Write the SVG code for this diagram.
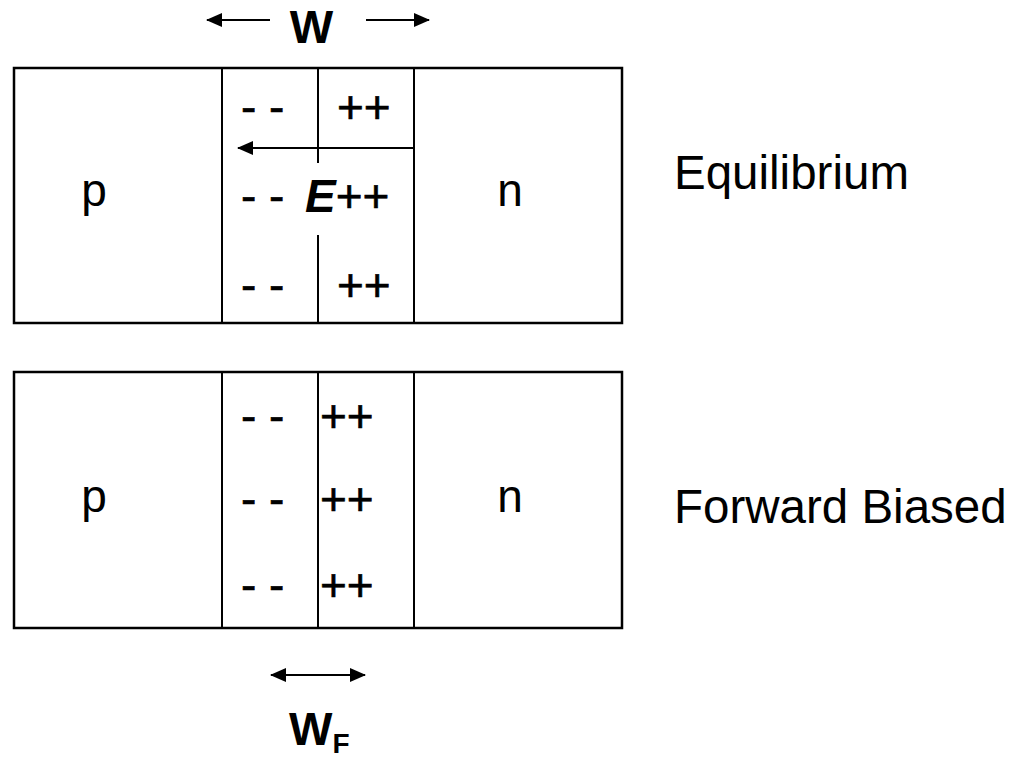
<svg xmlns="http://www.w3.org/2000/svg" width="1015" height="760" viewBox="0 0 1015 760">
  <style>
    .frame { fill: none; stroke: #000; stroke-width: 2.5; }
    .div { stroke: #000; stroke-width: 2; fill: none; }
    .conn { stroke: #000; stroke-width: 2; fill: none; }
    .lbl { font-family: "Liberation Sans", Arial, sans-serif; font-size: 46px; fill: #000; }
    .side { font-family: "Liberation Sans", Arial, sans-serif; font-size: 47.5px; fill: #000; }
    .chg { font-family: "Liberation Sans", Arial, sans-serif; font-size: 46px; fill: #000; stroke: #000; stroke-width: 0.6; }
    .bold { font-weight: bold; }
  </style>
  <defs>
    <marker id="head" viewBox="0 0 16 14" refX="15" refY="7" markerWidth="16" markerHeight="14" markerUnits="userSpaceOnUse" orient="auto-start-reverse">
      <path d="M0,0 L16,7 L0,14 Z" fill="#000"/>
    </marker>
  </defs>
  <rect width="1015" height="760" fill="#fff"/>

  <!-- equilibrium junction -->
  <g id="junction-equilibrium">
    <rect class="frame" x="14" y="68" width="608" height="255"/>
    <line class="div" x1="222" y1="68" x2="222" y2="323"/>
    <line class="div" x1="414" y1="68" x2="414" y2="323"/>
    <line class="div" x1="318" y1="68" x2="318" y2="163"/>
    <line class="div" x1="318" y1="235" x2="318" y2="323"/>
    <text class="lbl" x="94" y="206" text-anchor="middle">p</text>
    <text class="lbl" x="510" y="206" text-anchor="middle">n</text>
    <text class="chg" x="241" y="123">- -</text>
    <text class="chg" x="337" y="123">++</text>
    <text class="chg" x="241" y="212">- -</text>
    <text class="chg" x="305" y="212"><tspan font-weight="bold" font-style="italic" stroke-width="0">E</tspan>++</text>
    <text class="chg" x="241" y="301">- -</text>
    <text class="chg" x="337" y="301">++</text>
  </g>
  <g id="label-equilibrium">
    <text class="side" x="674" y="189">Equilibrium</text>
  </g>

  <!-- forward biased junction -->
  <g id="junction-forward">
    <rect class="frame" x="14" y="372" width="608" height="256"/>
    <line class="div" x1="222" y1="372" x2="222" y2="628"/>
    <line class="div" x1="318" y1="372" x2="318" y2="628"/>
    <line class="div" x1="414" y1="372" x2="414" y2="628"/>
    <text class="lbl" x="94" y="512" text-anchor="middle">p</text>
    <text class="lbl" x="510" y="512" text-anchor="middle">n</text>
    <text class="chg" x="241" y="432">- -</text>
    <text class="chg" x="320" y="432">++</text>
    <text class="chg" x="241" y="515">- -</text>
    <text class="chg" x="320" y="515">++</text>
    <text class="chg" x="241" y="601">- -</text>
    <text class="chg" x="320" y="601">++</text>
  </g>
  <g id="label-forward">
    <text class="side" x="674" y="523">Forward Biased</text>
  </g>

  <!-- width labels -->
  <g id="label-w">
    <text class="lbl bold" x="311.5" y="43" text-anchor="middle">W</text>
  </g>
  <g id="label-wf">
    <text class="lbl bold" x="289" y="745">W<tspan font-size="28" dy="8">F</tspan></text>
  </g>

  <!-- connectors -->
  <g id="connectors">
    <line class="conn" x1="270" y1="20" x2="207" y2="20" marker-end="url(#head)"/>
    <line class="conn" x1="366" y1="20" x2="429" y2="20" marker-end="url(#head)"/>
    <line class="conn" x1="414" y1="148" x2="238" y2="148" marker-end="url(#head)"/>
    <line class="conn" x1="271" y1="675" x2="365" y2="675" marker-start="url(#head)" marker-end="url(#head)"/>
  </g>
</svg>
